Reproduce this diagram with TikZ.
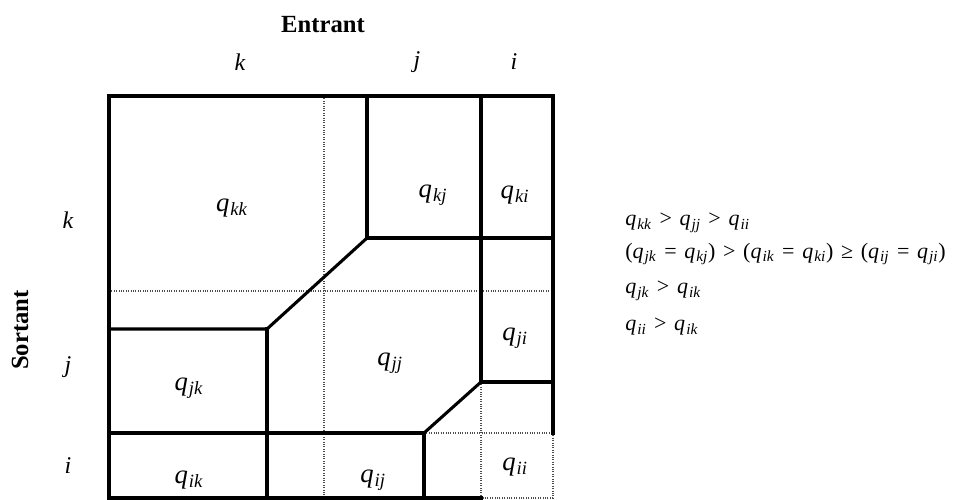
\documentclass[tikz,border=0pt]{standalone}
\usepackage{fontspec}
\setmainfont{Liberation Serif}
\usetikzlibrary{positioning}

\newcommand{\qq}[1]{\textit{q}\textsubscript{\kern0.8pt\textit{#1}}}
\newcommand{\op}[1]{\hspace{1.6pt}#1\hspace{1.6pt}}

\begin{document}
\begin{tikzpicture}[
    x=0.75pt, y=-0.75pt,
    wall/.style={line width=2.3pt, line join=miter, line cap=rect},
    guide/.style={line width=0.8pt, densely dotted, black!70},
    cell/.style={font=\fontsize{20}{24}\selectfont, inner sep=1pt},
    axis/.style={font=\itshape\fontsize{18}{22}\selectfont, inner sep=1pt},
    heading/.style={font=\bfseries\fontsize{18.5}{22}\selectfont, inner sep=1pt},
    rule/.style={font=\fontsize{16.5}{20}\selectfont, anchor=west, inner sep=0pt}
]
\useasboundingbox (0,0) rectangle (954,500);

% dotted guides
\draw[guide] (324,96) -- (324,498);
\draw[guide] (109,291) -- (553,291);
\draw[guide] (481,382) -- (481,498);
\draw[guide] (424,433) -- (553,433);
\draw[guide] (553,433) -- (553,498) -- (481,498);

% thick walls
\draw[wall] (481,498) -- (109,498) -- (109,96) -- (553,96) -- (553,433);
\draw[wall] (367,96) -- (367,238) -- (553,238);
\draw[wall] (481,96) -- (481,382) -- (553,382);
\draw[wall] (109,329) -- (267,329) -- (367,238);
\draw[wall] (267,329) -- (267,498);
\draw[wall] (109,433) -- (424,433) -- (424,498);
\draw[wall] (424,433) -- (481,382);

% cell labels
\node[cell] (qkk) at (232,208) {\qq{kk}};
\node[cell] (qkj) at (433,195) {\qq{kj}};
\node[cell] (qki) at (515,195) {\qq{ki}};
\node[cell] (qji) at (515,338) {\qq{ji}};
\node[cell] (qjj) at (390,363) {\qq{jj}};
\node[cell] (qjk) at (189,388) {\qq{jk}};
\node[cell] (qik) at (189,480) {\qq{ik}};
\node[cell] (qij) at (373,480) {\qq{ij}};
\node[cell] (qii) at (515,467) {\qq{ii}};

% axes
\node[heading] (entrant) at (323,25) {Entrant};
\node[heading, rotate=90] (sortant) at (20,330) {Sortant};
\node[axis] (colk) at (240,62) {k};
\node[axis] (colj) at (417,62) {j};
\node[axis] (coli) at (514,62) {i};
\node[axis] (rowk) at (68,220) {k};
\node[axis] (rowj) at (68,367) {j};
\node[axis] (rowi) at (68,466) {i};

% ordering
\node[rule] (ord1) at (625,223) {\qq{kk} \op{>} \qq{jj} \op{>} \qq{ii}};
\node[rule] (ord2) at (625,254) {(\qq{jk} \op{=} \qq{kj}) \op{>} (\qq{ik} \op{=} \qq{ki}) \op{≥} (\qq{ij} \op{=} \qq{ji})};
\node[rule] (ord3) at (625,291) {\qq{jk} \op{>} \qq{ik}};
\node[rule] (ord4) at (625,327) {\qq{ii} \op{>} \qq{ik}};

\end{tikzpicture}
\end{document}
